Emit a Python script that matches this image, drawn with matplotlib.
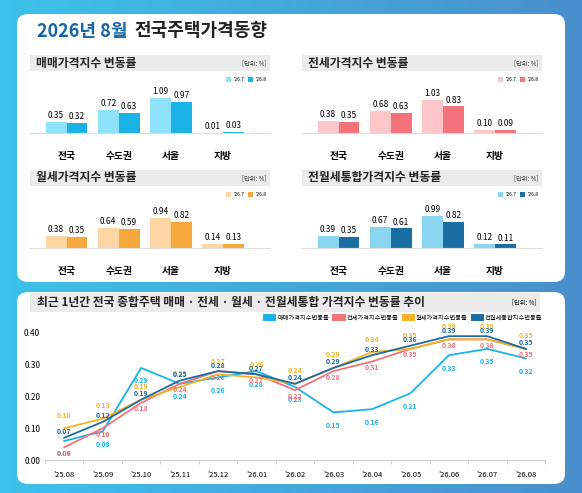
import matplotlib
matplotlib.use('Agg')
import matplotlib.pyplot as plt
from matplotlib.patches import FancyBboxPatch, Rectangle
import numpy as np

plt.rcParams['font.family'] = ['Noto Sans CJK KR', 'DejaVu Sans']

W, H = 582, 493

# bar panel data
regions = ['전국', '수도권', '서울', '지방']
sale_jul = [0.35, 0.72, 1.09, 0.01]
sale_aug = [0.32, 0.63, 0.97, 0.03]
jeonse_jul = [0.38, 0.68, 1.03, 0.10]
jeonse_aug = [0.35, 0.63, 0.83, 0.09]
wolse_jul = [0.38, 0.64, 0.94, 0.14]
wolse_aug = [0.35, 0.59, 0.82, 0.13]
total_jul = [0.39, 0.67, 0.99, 0.12]
total_aug = [0.35, 0.61, 0.82, 0.11]

# trend data
months = ["'25.08", "'25.09", "'25.10", "'25.11", "'25.12", "'26.01", "'26.02",
          "'26.03", "'26.04", "'26.05", "'26.06", "'26.07", "'26.08"]
sale_trend = [0.06, 0.09, 0.29, 0.24, 0.26, 0.28, 0.23, 0.15, 0.16, 0.21, 0.33, 0.35, 0.32]
jeonse_trend = [0.04, 0.10, 0.18, 0.24, 0.28, 0.27, 0.22, 0.28, 0.31, 0.35, 0.38, 0.38, 0.35]
wolse_trend = [0.10, 0.13, 0.19, 0.23, 0.27, 0.26, 0.24, 0.29, 0.34, 0.35, 0.38, 0.38, 0.35]
total_trend = [0.07, 0.12, 0.19, 0.25, 0.28, 0.27, 0.24, 0.29, 0.33, 0.36, 0.39, 0.39, 0.35]


def box(x, y, w, h):
    # pixel box (top-left origin) -> figure fraction rect
    return [x / W, 1 - (y + h) / H, w / W, h / H]


fig = plt.figure(figsize=(W / 100, H / 100), dpi=100)

# blue gradient background
bg = fig.add_axes([0, 0, 1, 1])
grad = np.linspace(0, 1, 256).reshape(1, -1)
bg.imshow(grad, aspect='auto', cmap=matplotlib.colors.LinearSegmentedColormap.from_list(
    'bgc', ['#3cc2ea', '#4a8fcc']), extent=[0, 1, 0, 1])
bg.set_xlim(0, 1)
bg.set_ylim(0, 1)
bg.axis('off')
for (x, y, w, h) in [(17, 14, 548, 268), (17, 292, 548, 192)]:
    bg.add_patch(FancyBboxPatch((x / W, 1 - (y + h) / H), w / W, h / H,
                                boxstyle='round,pad=0,rounding_size=0.02',
                                fc='white', ec='none'))

fig.text(37 / W, 1 - 31 / H, '2026년 8월', color='#1565a8', fontsize=13,
         fontweight='bold', va='center')
fig.text(134 / W, 1 - 31 / H, '전국주택가격동향', color='#222222', fontsize=13,
         fontweight='bold', va='center')

panels = [
    (30, 55, '매매가격지수 변동률', sale_jul, sale_aug, '#8ee2f9', '#1ab3e8'),
    (302, 55, '전세가격지수 변동률', jeonse_jul, jeonse_aug, '#fdc6c8', '#f4737a'),
    (30, 170, '월세가격지수 변동률', wolse_jul, wolse_aug, '#fdd6a4', '#f5a83c'),
    (302, 170, '전월세통합가격지수 변동률', total_jul, total_aug, '#8ad6f0', '#1a6ea1'),
]
for (px, py, title, jul, aug, c1, c2) in panels:
    bg.add_patch(Rectangle((px / W, 1 - (py + 16) / H), 240 / W, 16 / H,
                           fc='#ebebeb', ec='none'))
    fig.text((px + 6) / W, 1 - (py + 8) / H, title, fontsize=8.5, fontweight='bold',
             va='center', color='#222222')
    fig.text((px + 236) / W, 1 - (py + 8) / H, '[단위: %]', fontsize=4.5,
             va='center', ha='right', color='#333333')
    # legend swatches
    bg.add_patch(Rectangle(((px + 196) / W, 1 - (py + 27) / H), 5 / W, 5 / H, fc=c1, ec='none'))
    fig.text((px + 203) / W, 1 - (py + 24.5) / H, "'26.7", fontsize=3.5, va='center')
    bg.add_patch(Rectangle(((px + 218) / W, 1 - (py + 27) / H), 5 / W, 5 / H, fc=c2, ec='none'))
    fig.text((px + 225) / W, 1 - (py + 24.5) / H, "'26.8", fontsize=3.5, va='center')

    ax = fig.add_axes(box(px, py + 22, 240, 56))
    x = np.arange(len(regions))
    bw = 0.4
    ax.bar(x - bw / 2, jul, bw, color=c1)
    ax.bar(x + bw / 2, aug, bw, color=c2)
    for i in range(len(regions)):
        ax.text(x[i] - bw / 2, jul[i] + 0.06, f'{jul[i]:.2f}', ha='center', va='bottom', fontsize=6)
        ax.text(x[i] + bw / 2, aug[i] + 0.06, f'{aug[i]:.2f}', ha='center', va='bottom', fontsize=6)
    ax.set_ylim(0, 1.75)
    ax.set_xlim(-0.7, 3.9)
    ax.set_xticks(x)
    ax.set_xticklabels(regions, fontsize=7, fontweight='bold')
    ax.tick_params(axis='x', length=0, pad=13)
    ax.set_yticks([])
    for s in ['top', 'right', 'left']:
        ax.spines[s].set_visible(False)
    ax.spines['bottom'].set_color('#dddddd')
    ax.patch.set_alpha(0)

# trend panel
bg.add_patch(Rectangle((30 / W, 1 - 312 / H), 510 / W, 19 / H, fc='#ebebeb', ec='none'))
fig.text(37 / W, 1 - 302.5 / H, '최근 1년간 전국 종합주택 매매 · 전세 · 월세 · 전월세통합 가격지수 변동률 추이',
         fontsize=8.5, fontweight='bold', va='center', color='#222222')
fig.text(536 / W, 1 - 302.5 / H, '[단위: %]', fontsize=4.5, va='center', ha='right')

ax = fig.add_axes(box(45, 333, 500, 127))
x = np.arange(len(months))
series = [
    ('매매가격지수변동률', sale_trend, '#1ab3e8', -13),
    ('전세가격지수변동률', jeonse_trend, '#f4737a', -6),
    ('월세가격지수변동률', wolse_trend, '#f5b324', 13),
    ('전월세통합지수변동률', total_trend, '#1a6ea1', 6),
]
for name, vals, col, off in series:
    ax.plot(x, vals, color=col, lw=1.3, label=name)
    for i, v in enumerate(vals):
        ax.annotate(f'{v:.2f}', (x[i], v), xytext=(0, off),
                    textcoords='offset pixels', ha='center', va='center',
                    fontsize=5, color=col, fontweight='bold')
ax.set_ylim(0, 0.40)
ax.set_xlim(-0.5, 12.5)
ax.set_yticks([0, 0.1, 0.2, 0.3, 0.4])
ax.set_yticklabels(['0.00', '0.10', '0.20', '0.30', '0.40'], fontsize=6)
ax.set_xticks(x)
ax.set_xticklabels(months, fontsize=5.5)
ax.set_xticks(np.arange(-0.5, 13, 1), minor=True)
ax.tick_params(axis='x', which='major', length=0, pad=8)
ax.tick_params(axis='x', which='minor', length=3, color='#cccccc')
ax.tick_params(axis='y', length=0)
for s in ['top', 'right', 'left']:
    ax.spines[s].set_visible(False)
ax.spines['bottom'].set_color('#cccccc')
ax.patch.set_alpha(0)
ax.legend(loc='lower right', bbox_to_anchor=(1.0, 1.07), ncol=4, fontsize=4.5,
          frameon=False, handlelength=1, handleheight=1, columnspacing=1,
          borderaxespad=0)
leg = ax.get_legend()
for h in leg.legend_handles:
    h.set_linewidth(5)

fig.savefig('out.png', dpi=100)
